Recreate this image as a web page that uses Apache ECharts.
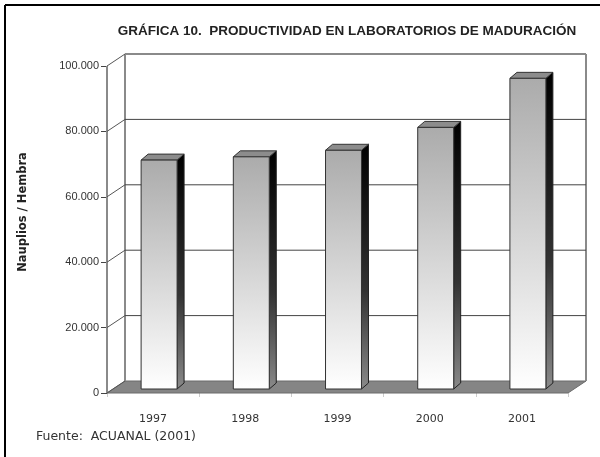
<!DOCTYPE html>
<html>
<head>
<meta charset="utf-8">
<title>Gráfica 10</title>
<script src="https://cdn.jsdelivr.net/npm/echarts@6/dist/echarts.min.js"></script>
<style>
html,body{margin:0;padding:0;background:#fff;}
#main{width:600px;height:457px;}
</style>
</head>
<body>
<div id="main"></div>
<script>
var years = ['1997', '1998', '1999', '2000', '2001'];
var nauplios = [70000, 71000, 73000, 80000, 95000];
var yTicks = [0, 20000, 40000, 60000, 80000, 100000];

// profundidad de la caja 3D (desplazamiento de la pared del fondo)
var DX = 18, DY = -12;
var myChart = echarts.init(document.getElementById('main'));

function miles(v) {
	return String(v).replace(/\B(?=(\d{3})+(?!\d))/g, '.');
}

// suelo y bordes de las paredes
function renderFrame(params, api) {
	var cs = params.coordSys;
	var x0 = cs.x, x1 = cs.x + cs.width;
	var yb = api.coord([0, 0])[1];
	var yt = api.coord([0, yTicks[yTicks.length - 1]])[1];
	return {
		type: 'group',
		children: [
			{type: 'polygon', shape: {points: [[x0, yb], [x1, yb], [x1 + DX, yb + DY], [x0 + DX, yb + DY]]},
				style: {fill: '#858585', stroke: '#6a6a6a', lineWidth: 1}},
			{type: 'line', shape: {x1: x0, y1: yt, x2: x0, y2: yb}, style: {stroke: '#8a8a8a', lineWidth: 2}},
			{type: 'line', shape: {x1: x0 + DX, y1: yt + DY, x2: x0 + DX, y2: yb + DY}, style: {stroke: '#8a8a8a', lineWidth: 2}},
			{type: 'line', shape: {x1: x1 + DX, y1: yt + DY, x2: x1 + DX, y2: yb + DY}, style: {stroke: '#8a8a8a', lineWidth: 2}}
		]
	};
}

// lineas de division: conector diagonal + linea en la pared del fondo
function renderGrid(params, api) {
	var cs = params.coordSys;
	var v = api.value(1);
	var y = api.coord([0, v])[1];
	var x0 = cs.x, x1 = cs.x + cs.width;
	var top = v === yTicks[yTicks.length - 1];
	var children = [
		{type: 'line', shape: {x1: x0, y1: y, x2: x0 + DX, y2: y + DY}, style: {stroke: '#555', lineWidth: 1}}
	];
	if (v > 0) {
		children.push({type: 'line', shape: {x1: x0 + DX, y1: y + DY, x2: x1 + DX, y2: y + DY},
			style: {stroke: top ? '#8a8a8a' : '#444', lineWidth: top ? 2 : 1}});
	}
	return {type: 'group', children: children};
}

// barras 3D
function renderBar(params, api) {
	var i = api.value(0);
	var base = api.coord([i, 0]);
	var top = api.coord([i, api.value(1)]);
	var w = api.size([1, 0])[0] * 0.39;
	var fx = DX / 3, fy = DY / 3;
	var bx = 7, by = -6;
	var xl = base[0] - w / 2 + fx, xr = xl + w;
	var yt = top[1] + fy, yb = base[1] + fy;
	return {
		type: 'group',
		children: [
			{type: 'polygon', shape: {points: [[xr, yt], [xr + bx, yt + by], [xr + bx, yb + by], [xr, yb]]},
				style: {fill: new echarts.graphic.LinearGradient(0, 0, 0, 1, [{offset: 0, color: '#000'}, {offset: 0.6, color: '#333'}, {offset: 1, color: '#8a8a8a'}]),
					stroke: '#222', lineWidth: 1}},
			{type: 'polygon', shape: {points: [[xl, yt], [xl + bx, yt + by], [xr + bx, yt + by], [xr, yt]]},
				style: {fill: '#8c8c8c', stroke: '#333', lineWidth: 1}},
			{type: 'rect', shape: {x: xl, y: yt, width: w, height: yb - yt},
				style: {fill: new echarts.graphic.LinearGradient(0, 0, 0, 1, [{offset: 0, color: '#ababab'}, {offset: 1, color: '#ffffff'}]),
					stroke: '#333', lineWidth: 1}}
		]
	};
}

var option = {
	animation: false,
	grid: {left: 107, right: 32, top: 66, bottom: 64},
	xAxis: {
		type: 'category',
		data: years,
		axisLine: {show: false},
		axisTick: {show: true, length: 4, lineStyle: {color: '#ccc'}},
		axisLabel: {margin: 21, fontSize: 11, color: '#333', fontFamily: 'DejaVu Sans'}
	},
	yAxis: {
		type: 'value',
		min: 0,
		max: 100000,
		interval: 20000,
		axisLine: {show: false},
		axisTick: {show: true, length: 6, lineStyle: {color: '#444'}},
		splitLine: {show: false},
		axisLabel: {margin: 8, fontSize: 11, color: '#333', fontFamily: 'Liberation Sans', formatter: miles}
	},
	graphic: [
		{type: 'line', shape: {x1: 5, y1: 5, x2: 600, y2: 5}, style: {stroke: '#000', lineWidth: 2}},
		{type: 'line', shape: {x1: 5, y1: 5, x2: 5, y2: 457}, style: {stroke: '#000', lineWidth: 2}},
		{type: 'text', x: 347, y: 31, style: {text: 'GRÁFICA 10.  PRODUCTIVIDAD EN LABORATORIOS DE MADURACIÓN',
			fontFamily: 'Liberation Sans', fontWeight: 'bold', fontSize: 13.5, fill: '#222', textAlign: 'center', textVerticalAlign: 'middle'}},
		{type: 'text', x: 23, y: 212, rotation: Math.PI / 2, style: {text: 'Nauplios / Hembra',
			fontFamily: 'DejaVu Sans', fontWeight: 'bold', fontSize: 11.5, fill: '#222', textAlign: 'center', textVerticalAlign: 'middle'}},
		{type: 'text', x: 36, y: 437, style: {text: 'Fuente:  ACUANAL (2001)',
			fontFamily: 'DejaVu Sans', fontSize: 12.5, fill: '#333', textAlign: 'left', textVerticalAlign: 'middle'}}
	],
	series: [
		{type: 'custom', name: 'marco', silent: true, clip: false, z: 1, renderItem: renderFrame, data: [[0, 0]]},
		{type: 'custom', name: 'divisiones', silent: true, clip: false, z: 2, renderItem: renderGrid,
			data: yTicks.map(function (v) { return [0, v]; })},
		{type: 'custom', name: 'Nauplios / Hembra', silent: true, clip: false, z: 3, renderItem: renderBar,
			data: nauplios.map(function (v, i) { return [i, v]; })}
	]
};
myChart.setOption(option);
</script>
</body>
</html>
